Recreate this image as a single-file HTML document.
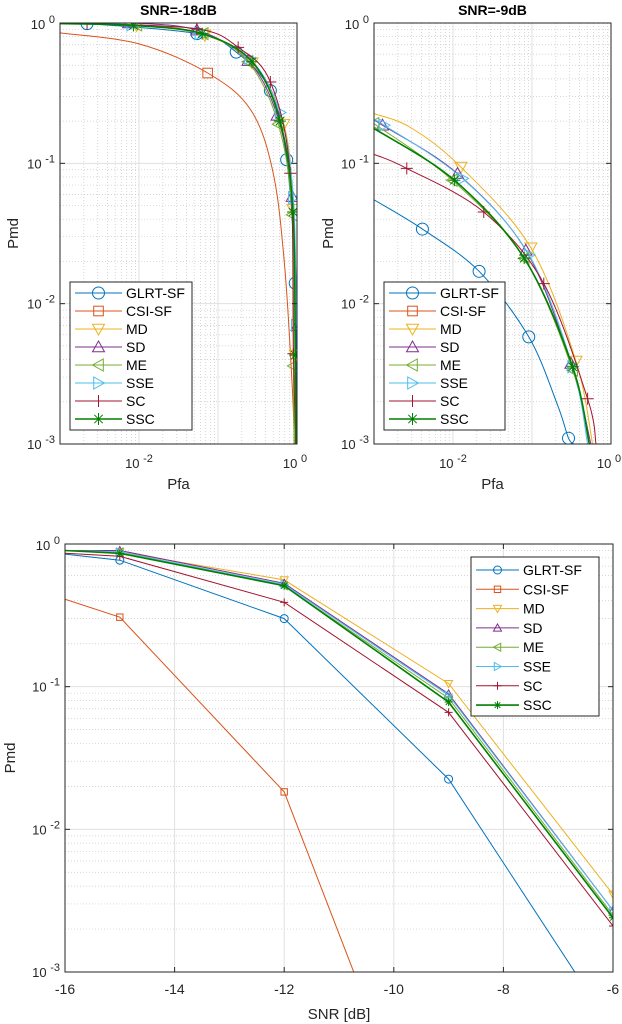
<!DOCTYPE html>
<html><head><meta charset="utf-8"><style>
body{margin:0;background:#fff;overflow:hidden;}
svg{display:block;font-family:"Liberation Sans",sans-serif;}
</style></head><body>
<svg id="fig" width="622" height="1024" viewBox="0 0 622 1024" xmlns="http://www.w3.org/2000/svg"></svg>
<script>
// ===== Top-left (SNR=-18dB) data =====
const tl_glrt_pfa=[0.001,0.0022,0.054,0.17,0.46,0.74,0.95,0.97];
const tl_glrt_pmd=[1.0,0.99,0.84,0.62,0.33,0.106,0.014,0.001];
const tl_csi_pfa=[0.001,0.01,0.074,0.26,0.5,0.7,0.87,0.93];
const tl_csi_pmd=[0.85,0.71,0.44,0.24,0.085,0.018,0.0026,0.001];
const tl_md_pfa=[0.001,0.0093,0.068,0.27,0.68,0.89,0.95,0.975];
const tl_md_pmd=[0.99,0.96,0.82,0.52,0.19,0.047,0.0043,0.001];
const tl_sd_pfa=[0.001,0.0074,0.054,0.24,0.56,0.87,1.0];
const tl_sd_pmd=[1.0,1.0,0.89,0.54,0.22,0.058,0.007];
const tl_me_pfa=[0.001,0.0094,0.065,0.24,0.58,0.87,0.9,0.92];
const tl_me_pmd=[0.99,0.97,0.84,0.53,0.19,0.043,0.0036,0.001];
const tl_sse_pfa=[0.001,0.0081,0.059,0.25,0.61,0.9,0.98];
const tl_sse_pmd=[0.99,0.97,0.84,0.56,0.23,0.057,0.007];
const tl_sc_pfa=[0.001,0.0022,0.054,0.18,0.46,0.82,0.9,0.96];
const tl_sc_pmd=[1.0,0.99,0.91,0.67,0.38,0.085,0.0044,0.001];
const tl_ssc_pfa=[0.001,0.0085,0.063,0.27,0.61,0.89,0.95,0.975];
const tl_ssc_pmd=[0.99,0.96,0.84,0.53,0.20,0.045,0.0043,0.001];
// ===== Top-right (SNR=-9dB) data =====
const tr_glrt_pfa=[0.001,0.0041,0.0214,0.091,0.21,0.29,0.34];
const tr_glrt_pmd=[0.055,0.034,0.017,0.0058,0.0019,0.0011,0.001];
const tr_md_pfa=[0.001,0.0029,0.0126,0.0968,0.36,0.585];
const tr_md_pmd=[0.226,0.18,0.094,0.025,0.0039,0.001];
const tr_sd_pfa=[0.001,0.00128,0.0114,0.0836,0.311,0.557];
const tr_sd_pmd=[0.203,0.187,0.0845,0.024,0.00375,0.001];
const tr_me_pfa=[0.001,0.0098,0.0796,0.327,0.531];
const tr_me_pmd=[0.192,0.0758,0.021,0.00336,0.001];
const tr_sse_pfa=[0.001,0.00134,0.0132,0.092,0.327,0.506];
const tr_sse_pmd=[0.2,0.187,0.078,0.0222,0.00355,0.001];
const tr_sc_pfa=[0.001,0.0026,0.0245,0.141,0.506,0.646];
const tr_sc_pmd=[0.116,0.092,0.045,0.0139,0.0021,0.001];
const tr_ssc_pfa=[0.001,0.0104,0.0796,0.327,0.531];
const tr_ssc_pmd=[0.177,0.0758,0.0211,0.00355,0.001];
// ===== Bottom (Pmd vs SNR) data =====
const snr=[-16,-15,-12,-9,-6];
const b_glrt=[0.85,0.77,0.30,0.0225,0.00039];
const b_csi=[0.41,0.307,0.0183,0.000019,0.00000001];
const b_md=[0.9,0.88,0.56,0.105,0.0035];
const b_sd=[0.9,0.9,0.53,0.089,0.0027];
const b_me=[0.9,0.88,0.51,0.083,0.0025];
const b_sse=[0.9,0.88,0.52,0.087,0.0027];
const b_sc=[0.86,0.82,0.39,0.066,0.0021];
const b_ssc=[0.9,0.86,0.51,0.078,0.0024];
const legendNames=["GLRT-SF","CSI-SF","MD","SD","ME","SSE","SC","SSC"];
const xTicksSnr=[-16,-14,-12,-10,-8,-6];

const NS="http://www.w3.org/2000/svg";
const fig=document.getElementById('fig');
const COL=["#0072BD","#D95319","#EDB120","#7E2F8E","#77AC30","#4DBEEE","#A2142F","#008000"];
const MK=["o","s","v","^","<",">","+","*"];
function el(tag,attrs,parent){const e=document.createElementNS(NS,tag);for(const k in attrs)e.setAttribute(k,attrs[k]);(parent||fig).appendChild(e);return e;}
function marker(g,m,x,y,r,c){
  const a={fill:"none",stroke:c,"stroke-width":1};
  if(m==="o")el("circle",Object.assign({cx:x,cy:y,r:r},a),g);
  else if(m==="s")el("rect",Object.assign({x:x-r*0.8,y:y-r*0.8,width:r*1.6,height:r*1.6},a),g);
  else if(m==="v")el("polygon",Object.assign({points:`${x-r},${y-r*0.8} ${x+r},${y-r*0.8} ${x},${y+r}`},a),g);
  else if(m==="^")el("polygon",Object.assign({points:`${x-r},${y+r*0.8} ${x+r},${y+r*0.8} ${x},${y-r}`},a),g);
  else if(m==="<")el("polygon",Object.assign({points:`${x-r},${y} ${x+r*0.8},${y-r} ${x+r*0.8},${y+r}`},a),g);
  else if(m===">")el("polygon",Object.assign({points:`${x+r},${y} ${x-r*0.8},${y-r} ${x-r*0.8},${y+r}`},a),g);
  else if(m==="+")el("path",Object.assign({d:`M${x-r},${y}H${x+r}M${x},${y-r}V${y+r}`},a),g);
  else if(m==="*"){const d=r*0.7;el("path",Object.assign({d:`M${x-r},${y}H${x+r}M${x},${y-r}V${y+r}M${x-d},${y-d}L${x+d},${y+d}M${x-d},${y+d}L${x+d},${y-d}`},a),g);}
}
function smoothPath(P){
  let d=`M${P[0][0].toFixed(1)},${P[0][1].toFixed(1)}`;
  for(let i=0;i<P.length-1;i++){
    const p0=P[Math.max(0,i-1)],p1=P[i],p2=P[i+1],p3=P[Math.min(P.length-1,i+2)];
    const c1=[p1[0]+(p2[0]-p0[0])/6,p1[1]+(p2[1]-p0[1])/6];
    const c2=[p2[0]-(p3[0]-p1[0])/6,p2[1]-(p3[1]-p1[1])/6];
    d+=`C${c1[0].toFixed(1)},${c1[1].toFixed(1)} ${c2[0].toFixed(1)},${c2[1].toFixed(1)} ${p2[0].toFixed(1)},${p2[1].toFixed(1)}`;
  }
  return d;
}
function pow10(g,x,y,exp,anchor,name){
  const t=el("text",{x:x,y:y,"font-size":13,fill:"#262626","text-anchor":anchor},g);
  
  
  t.appendChild(document.createTextNode("10 "));
  const s=el("tspan",{dy:-6,"font-size":11},t);s.textContent=exp;
}
function axes(cfg){
  const g=el("g",{});
  
  
  const {L,R,T,B}=cfg;
  const xs=cfg.xlog?(v=>L+(Math.log10(v)-cfg.x0)/(cfg.x1-cfg.x0)*(R-L)):(v=>L+(v-cfg.x0)/(cfg.x1-cfg.x0)*(R-L));
  const ys=v=>T+(cfg.y1-Math.log10(v))/(cfg.y1-cfg.y0)*(B-T);
  const clipId="clip"+cfg.name;
  const cp=el("clipPath",{id:clipId},g);el("rect",{x:L,y:T,width:R-L,height:B-T},cp);
  const grid=el("g",{},g);
  
  
  for(let e=cfg.y0;e<cfg.y1;e++){for(let k=2;k<=9;k++){const y=ys(k*Math.pow(10,e));el("line",{x1:L,x2:R,y1:y,y2:y,stroke:"#c8c8c8","stroke-width":0.7,"stroke-dasharray":"1,2"},grid);}}
  for(let e=cfg.y0;e<=cfg.y1;e++){const y=ys(Math.pow(10,e));el("line",{x1:L,x2:R,y1:y,y2:y,stroke:"#e0e0e0","stroke-width":1},grid);}
  if(cfg.xlog){
    for(let e=cfg.x0;e<cfg.x1;e++){for(let k=2;k<=9;k++){const x=xs(k*Math.pow(10,e));el("line",{x1:x,x2:x,y1:T,y2:B,stroke:"#c8c8c8","stroke-width":0.7,"stroke-dasharray":"1,2"},grid);}}
    for(let e=cfg.x0;e<=cfg.x1;e++){const x=xs(Math.pow(10,e));el("line",{x1:x,x2:x,y1:T,y2:B,stroke:"#e0e0e0","stroke-width":1},grid);}
  } else {
    cfg.xticks.forEach(v=>{const x=xs(v);el("line",{x1:x,x2:x,y1:T,y2:B,stroke:"#e0e0e0","stroke-width":1},grid);});
  }
  const sg=el("g",{"clip-path":`url(#${clipId})`},g);
  cfg.series.forEach(s=>{
    const sgg=el("g",{},sg);
    
    
    const P=s.x.map((v,j)=>[xs(v),ys(s.y[j])]);
    const sw=s.i===7?1.6:1;
    if(cfg.smooth) el("path",{d:smoothPath(P),fill:"none",stroke:COL[s.i],"stroke-width":sw},sgg);
    else el("polyline",{points:P.map(p=>p[0].toFixed(1)+","+p[1].toFixed(1)).join(" "),fill:"none",stroke:COL[s.i],"stroke-width":sw},sgg);
    s.m.forEach(j=>marker(sgg,MK[s.i],xs(s.x[j]),ys(s.y[j]),cfg.mr,COL[s.i]));
  });
  el("rect",{x:L,y:T,width:R-L,height:B-T,fill:"none",stroke:"#262626","stroke-width":1},g);
  for(let e=cfg.y0;e<=cfg.y1;e++){const y=ys(Math.pow(10,e));el("line",{x1:L,x2:L+5,y1:y,y2:y,stroke:"#262626"},g);el("line",{x1:R,x2:R-5,y1:y,y2:y,stroke:"#262626"},g);
    pow10(g,L-5,y+(e===cfg.y1?6:5),String(e),"end","y-tick-label");}
  if(cfg.xlog){
    [-2,0].forEach(e=>{const x=xs(Math.pow(10,e));pow10(g,x+(e===0?-2:0),B+24,String(e),"middle","x-tick-label");});
  } else {
    cfg.xticks.forEach(v=>{const x=xs(v);el("line",{x1:x,x2:x,y1:B,y2:B-5,stroke:"#262626"},g);el("line",{x1:x,x2:x,y1:T,y2:T+5,stroke:"#262626"},g);
      const t=el("text",{x:x,y:B+22,"font-size":14,fill:"#262626","text-anchor":"middle"},g);t.textContent=String(v);
      });
  }
  const xl=el("text",{x:(L+R)/2,y:cfg.xly,"font-size":15,fill:"#262626","text-anchor":"middle"},g);xl.textContent=cfg.xlabel;
  
  const yl=el("text",{x:0,y:0,"font-size":15,fill:"#262626","text-anchor":"middle",transform:`translate(${cfg.ylx},${(T+B)/2}) rotate(-90)`},g);yl.textContent="Pmd";
  
  if(cfg.title){const tt=el("text",{x:(L+R)/2,y:15,"font-size":14,"font-weight":"bold",fill:"#000","text-anchor":"middle"},g);tt.textContent=cfg.title;
    }
  const lg=cfg.leg, leg=el("g",{},g);
  
  
  el("rect",{x:lg.x,y:lg.y,width:lg.w,height:lg.h,fill:"#fff",stroke:"#262626","stroke-width":1},leg);
  legendNames.forEach((n,i)=>{
    const e=el("g",{},leg);
    
    
    const y=lg.y+lg.p+i*lg.dy;
    el("line",{x1:lg.x+5,x2:lg.x+lg.lw,y1:y,y2:y,stroke:COL[i],"stroke-width":i===7?1.6:1},e);
    marker(e,MK[i],lg.x+5+(lg.lw-5)/2,y,cfg.mr,COL[i]);
    const t=el("text",{x:lg.x+lg.lw+4,y:y+5,"font-size":lg.fs,fill:"#000"},e);t.textContent=n;
  });
}
const mk6=[1,2,3,4,5,6];
axes({name:"plot-snr-18",L:60,R:297,T:23,B:444,xlog:true,smooth:true,x0:-3,x1:0,y0:-3,y1:0,mr:6,xlabel:"Pfa",xly:489,ylx:18,title:"SNR=-18dB",
  leg:{x:70,y:282,w:122,h:148,p:11,dy:18,lw:52,fs:14},
  series:[
   {i:0,x:tl_glrt_pfa,y:tl_glrt_pmd,m:[1,2,3,4,5,6]},
   {i:1,x:tl_csi_pfa,y:tl_csi_pmd,m:[2]},
   {i:2,x:tl_md_pfa,y:tl_md_pmd,m:mk6},
   {i:3,x:tl_sd_pfa,y:tl_sd_pmd,m:mk6},
   {i:4,x:tl_me_pfa,y:tl_me_pmd,m:mk6},
   {i:5,x:tl_sse_pfa,y:tl_sse_pmd,m:mk6},
   {i:6,x:tl_sc_pfa,y:tl_sc_pmd,m:mk6},
   {i:7,x:tl_ssc_pfa,y:tl_ssc_pmd,m:mk6}]});
axes({name:"plot-snr-9",L:374,R:611,T:23,B:444,xlog:true,smooth:true,x0:-3,x1:0,y0:-3,y1:0,mr:6,xlabel:"Pfa",xly:489,ylx:333,title:"SNR=-9dB",
  leg:{x:384,y:282,w:121,h:148,p:11,dy:18,lw:52,fs:14},
  series:[
   {i:0,x:tr_glrt_pfa,y:tr_glrt_pmd,m:[1,2,3,5]},
   {i:2,x:tr_md_pfa,y:tr_md_pmd,m:[2,3,4]},
   {i:3,x:tr_sd_pfa,y:tr_sd_pmd,m:[1,2,3,4]},
   {i:4,x:tr_me_pfa,y:tr_me_pmd,m:[0,1,2,3]},
   {i:5,x:tr_sse_pfa,y:tr_sse_pmd,m:[1,2,3,4]},
   {i:6,x:tr_sc_pfa,y:tr_sc_pmd,m:[1,2,3,4]},
   {i:7,x:tr_ssc_pfa,y:tr_ssc_pmd,m:[1,2,3]}]});
const mkb=[1,2,3,4];
axes({name:"plot-pmd-vs-snr",L:65,R:613,T:544,B:972,xlog:false,smooth:false,x0:-16,x1:-6,xticks:xTicksSnr,y0:-3,y1:0,mr:4,xlabel:"SNR [dB]",xly:1019,ylx:15,
  leg:{x:471,y:557,w:128,h:159,p:13,dy:19.3,lw:48,fs:14},
  series:[
   {i:0,x:snr,y:b_glrt,m:mkb},{i:1,x:snr,y:b_csi,m:mkb},{i:2,x:snr,y:b_md,m:mkb},{i:3,x:snr,y:b_sd,m:mkb},
   {i:4,x:snr,y:b_me,m:mkb},{i:5,x:snr,y:b_sse,m:mkb},{i:6,x:snr,y:b_sc,m:mkb},{i:7,x:snr,y:b_ssc,m:mkb}]});
</script>
</body></html>
